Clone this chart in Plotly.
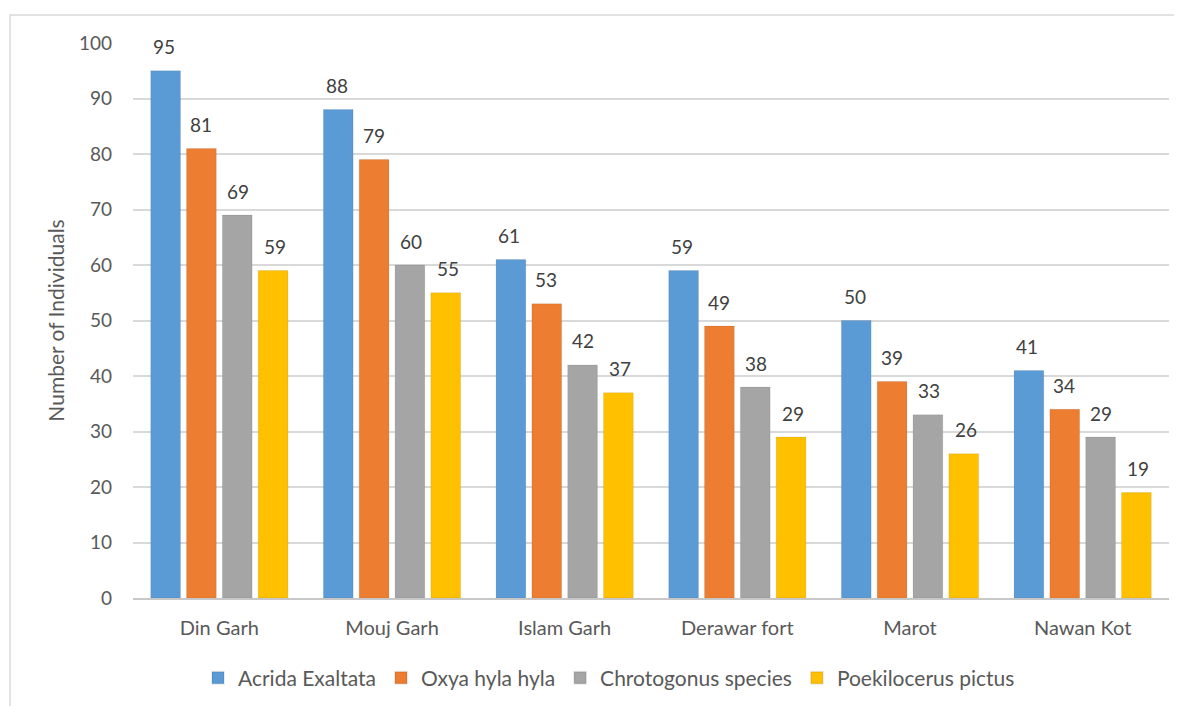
import plotly.graph_objects as go

categories = ["Din Garh", "Mouj Garh", "Islam Garh", "Derawar fort", "Marot", "Nawan Kot"]
series_names = ["Acrida Exaltata", "Oxya hyla hyla", "Chrotogonus species", "Poekilocerus pictus"]
acrida = [95, 88, 61, 59, 50, 41]
oxya = [81, 79, 53, 49, 39, 34]
chrotogonus = [69, 60, 42, 38, 33, 29]
poekilocerus = [59, 55, 37, 29, 26, 19]
y_ticks = [0, 10, 20, 30, 40, 50, 60, 70, 80, 90, 100]

series_values = [acrida, oxya, chrotogonus, poekilocerus]
colors = ["#5B9BD5", "#ED7D31", "#A5A5A5", "#FFC000"]
label_xshift = [-55.5, -18.5, 18.5, 55.5]
text_color = "#595959"
font_family = "Lato, Open Sans, sans-serif"

W, H = 1174, 698
ML, MR, MT, MB = 125, 13, 35, 108
PW, PH = W - ML - MR, H - MT - MB

fig = go.Figure()
for name, vals, col in zip(series_names, series_values, colors):
    fig.add_trace(go.Bar(
        name=name, x=categories, y=vals,
        marker=dict(color=col, line=dict(color="rgba(0,0,0,0.08)", width=1)),
        hoverinfo="y",
    ))

annotations = []
for vals, dx in zip(series_values, label_xshift):
    for cat, v in zip(categories, vals):
        annotations.append(dict(
            x=cat, y=v, xref="x", yref="y", text=str(v), showarrow=False,
            xshift=dx, yshift=24, font=dict(size=19, color="#404040", family=font_family),
        ))

fig.update_layout(
    width=W, height=H,
    margin=dict(l=ML, r=MR, t=MT, b=MB, autoexpand=False),
    paper_bgcolor="white", plot_bgcolor="white",
    barmode="group", bargap=0.17, bargroupgap=0.17,
    font=dict(family=font_family, color=text_color, size=18),
    showlegend=True,
    legend=dict(orientation="h", x=(601 - ML) / PW, xanchor="center",
                y=-80 / PH, yanchor="middle",
                font=dict(size=21, color=text_color), traceorder="normal",
                itemsizing="constant", itemwidth=30),
    annotations=annotations,
    shapes=[dict(type="rect", xref="paper", yref="paper",
                 x0=(2 - ML) / PW, x1=(1173 - ML) / PW,
                 y0=-0.3, y1=1 + (MT - 7) / PH,
                 line=dict(color="#D9D9D9", width=1.5), fillcolor="rgba(0,0,0,0)", layer="below")],
)
fig.update_xaxes(
    showgrid=False, showline=True, linecolor="#C8C8C8", linewidth=2,
    tickfont=dict(size=20, color=text_color), ticks="", ticklabelstandoff=11,
)
fig.update_yaxes(
    range=[0, 100], tickvals=y_ticks, showgrid=True, gridcolor="#D9D9D9", gridwidth=1.5,
    zeroline=False, showline=False, ticks="",
    tickfont=dict(size=19, color=text_color), ticklabelstandoff=20,
    title=dict(text="Number of Individuals", font=dict(size=21, color=text_color), standoff=8),
)
fig.write_html("out.html")
